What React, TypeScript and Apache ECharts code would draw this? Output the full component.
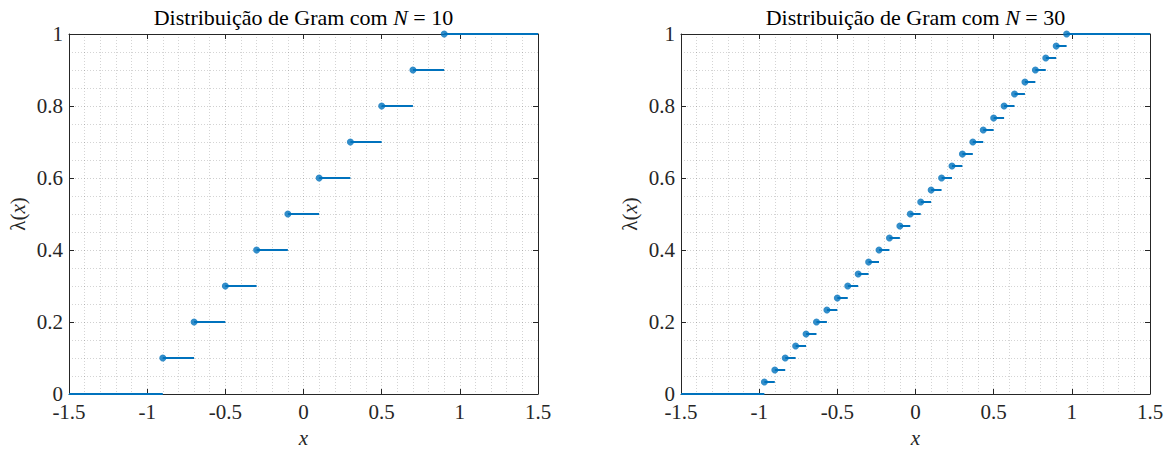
import React, { useEffect, useRef } from "react";
import * as echarts from "echarts";

// Gram distribution N = 10: jump positions and levels
const jumpX10 = [-0.9, -0.7, -0.5, -0.3, -0.1, 0.1, 0.3, 0.5, 0.7, 0.9];
const level10 = [0.1, 0.2, 0.3, 0.4, 0.5, 0.6, 0.7, 0.8, 0.9, 1.0];

// Gram distribution N = 30
const jumpX30 = [
  -0.9667, -0.9, -0.8333, -0.7667, -0.7, -0.6333, -0.5667, -0.5, -0.4333, -0.3667,
  -0.3, -0.2333, -0.1667, -0.1, -0.0333, 0.0333, 0.1, 0.1667, 0.2333, 0.3,
  0.3667, 0.4333, 0.5, 0.5667, 0.6333, 0.7, 0.7667, 0.8333, 0.9, 0.9667,
];
const level30 = [
  0.0333, 0.0667, 0.1, 0.1333, 0.1667, 0.2, 0.2333, 0.2667, 0.3, 0.3333,
  0.3667, 0.4, 0.4333, 0.4667, 0.5, 0.5333, 0.5667, 0.6, 0.6333, 0.6667,
  0.7, 0.7333, 0.7667, 0.8, 0.8333, 0.8667, 0.9, 0.9333, 0.9667, 1.0,
];

const xTicks = { min: -1.5, max: 1.5, interval: 0.5 };
const yTicks = { min: 0, max: 1, interval: 0.2 };
const titles = ["Distribuição de Gram com ", "Distribuição de Gram com "];
const nValues = ["10", "30"];

const BLUE = "#0072BD";
const AX = "#262626";
const FONT = "Liberation Serif";

function segments(xs: number[], ys: number[], xmin: number, xmax: number) {
  const out: any[] = [{ coords: [[xmin, 0], [xs[0], 0]] }];
  for (let i = 0; i < xs.length; i++) {
    const end = i + 1 < xs.length ? xs[i + 1] : xmax;
    out.push({ coords: [[xs[i], ys[i]], [end, ys[i]]] });
  }
  return out;
}

export default function App() {
  const ref = useRef<HTMLDivElement>(null);
  useEffect(() => {
    document.body.style.margin = "0";
    const chart = echarts.init(ref.current!, null, { renderer: "svg" });
    const grids = [
      { left: 69, top: 34, width: 469, height: 360, outerBoundsMode: "none", containLabel: false },
      { left: 681, top: 34, width: 469, height: 360, outerBoundsMode: "none", containLabel: false },
    ];
    const gridLine = { show: true, lineStyle: { color: "rgba(38,38,38,0.22)", type: [1, 2], width: 1 } };
    const minorLine = { show: true, lineStyle: { color: "rgba(38,38,38,0.2)", type: [1, 2], width: 1 } };
    const labelStyle = { color: AX, fontFamily: FONT, fontSize: 21, lineHeight: 16 };
    const nameStyle = {
      color: AX, fontFamily: FONT, fontSize: 21, lineHeight: 18,
      rich: { i: { fontStyle: "italic", fontFamily: FONT, fontSize: 21, color: AX, lineHeight: 18 } },
    };
    const xAxes: any[] = [];
    const yAxes: any[] = [];
    [0, 1].forEach((g) => {
      xAxes.push({
        type: "value", gridIndex: g, position: "bottom", ...xTicks,
        axisLine: { show: true, onZero: false, lineStyle: { color: AX, width: 1 } },
        axisTick: { show: true, inside: true, length: 5, lineStyle: { color: AX } },
        axisLabel: { ...labelStyle, margin: 10 },
        splitLine: gridLine,
        minorTick: { show: false, splitNumber: 5 },
        minorSplitLine: minorLine,
        name: "{i|x}", nameLocation: "middle", nameGap: 34,
        nameTextStyle: nameStyle,
      });
      xAxes.push({
        type: "value", gridIndex: g, position: "top", ...xTicks,
        axisLine: { show: true, onZero: false, lineStyle: { color: AX, width: 1 } },
        axisTick: { show: true, inside: true, length: 5, lineStyle: { color: AX } },
        axisLabel: { show: false }, splitLine: { show: false },
      });
      yAxes.push({
        type: "value", gridIndex: g, position: "left", ...yTicks,
        axisLine: { show: true, onZero: false, lineStyle: { color: AX, width: 1 } },
        axisTick: { show: true, inside: true, length: 5, lineStyle: { color: AX } },
        axisLabel: { ...labelStyle, margin: 6 },
        splitLine: gridLine,
        minorTick: { show: false, splitNumber: 4 },
        minorSplitLine: minorLine,
        name: "λ({i|x})", nameLocation: "middle", nameGap: 42, nameRotate: 90,
        nameTextStyle: nameStyle,
      });
      yAxes.push({
        type: "value", gridIndex: g, position: "right", ...yTicks,
        axisLine: { show: true, onZero: false, lineStyle: { color: AX, width: 1 } },
        axisTick: { show: true, inside: true, length: 5, lineStyle: { color: AX } },
        axisLabel: { show: false }, splitLine: { show: false },
      });
    });
    const datasets = [
      { xs: jumpX10, ys: level10 },
      { xs: jumpX30, ys: level30 },
    ];
    const series: any[] = [];
    datasets.forEach((d, g) => {
      series.push({
        type: "lines", coordinateSystem: "cartesian2d", xAxisIndex: g * 2, yAxisIndex: g * 2,
        data: segments(d.xs, d.ys, xTicks.min, xTicks.max),
        lineStyle: { color: BLUE, width: 2, opacity: 1 }, silent: true, z: 3,
      });
      series.push({
        type: "scatter", xAxisIndex: g * 2, yAxisIndex: g * 2,
        data: d.xs.map((x, i) => [x, d.ys[i]]),
        symbol: "circle", symbolSize: 7, itemStyle: { color: BLUE }, z: 4,
      });
    });
    chart.setOption({
      animation: false,
      backgroundColor: "#ffffff",
      textStyle: { fontFamily: FONT },
      grid: grids,
      xAxis: xAxes,
      yAxis: yAxes,
      series,
      graphic: grids.map((gr, g) => ({
        type: "text",
        x: gr.left + gr.width / 2,
        y: 17,
        style: {
          text: titles[g] + "{i|N} = " + nValues[g],
          fontFamily: FONT,
          fontSize: 22,
          fill: "#000",
          align: "center",
          verticalAlign: "middle",
          rich: { i: { fontStyle: "italic", fontFamily: FONT, fontSize: 22, fill: "#000" } },
        },
      })),
    });
    return () => chart.dispose();
  }, []);
  return <div ref={ref} style={{ width: 1167, height: 450 }} />;
}
